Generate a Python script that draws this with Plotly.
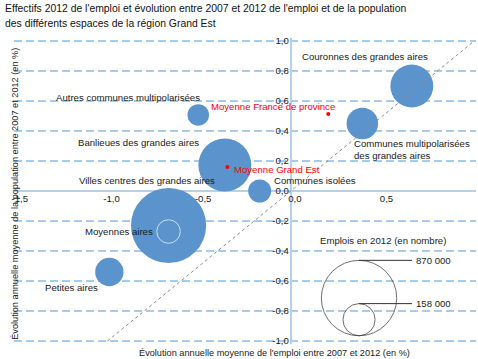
import plotly.graph_objects as go
import math

# ---- data ----
espaces = ["Couronnes des grandes aires",
           "Communes multipolarisées des grandes aires",
           "Autres communes multipolarisées",
           "Banlieues des grandes aires",
           "Communes isolées",
           "Villes centres des grandes aires",
           "Moyennes aires",
           "Petites aires"]
evol_emploi = [0.66, 0.39, -0.505, -0.36, -0.17, -0.667, -0.667, -0.99]
evol_pop = [0.70, 0.45, 0.507, 0.173, 0.0, -0.23, -0.27, -0.54]
emplois_2012 = [281000, 152000, 71000, 428000, 81000, 865000, 85000, 123000]

moyennes = ["Moyenne France de province", "Moyenne Grand Est"]
moy_emploi = [0.204, -0.346]
moy_pop = [0.513, 0.16]

legende_valeurs = [870000, 158000]
legende_labels = ["870 000", "158 000"]

x_ticks = [-1.5, -1.0, -0.5, 0.0, 0.5, 1.0]
y_ticks = [-1.0, -0.8, -0.6, -0.4, -0.2, 0.0, 0.2, 0.4, 0.6, 0.8, 1.0]
diagonale = [-1.0, 1.0]

titre = ["Effectifs 2012 de l'emploi et évolution entre 2007 et 2012 de l'emploi et de la population",
         "des différents espaces de la région Grand Est"]

def fr(v):
    return f"{v:.1f}".replace(".", ",")

# ---- layout geometry ----
W, H = 478, 359
# target: x -1.5..1.0 -> px 16..474 ; y 1..-1 -> px 41..341
XPAD, YPAD = 0.01, 0.02
PXU_X = 458 / 2.5
PXU_Y = 300 / 2.0
ML = round(16 - XPAD * PXU_X, 3)
MR = round(4 - XPAD * PXU_X, 3)
MT = round(41 - YPAD * PXU_Y, 3)
MB = round(18 - YPAD * PXU_Y, 3)
PW, PH = W - ML - MR, H - MT - MB
XR = [-1.5 - XPAD, 1.0 + XPAD]
YR = [-1.0 - YPAD, 1.0 + YPAD]
px_y = PH / (YR[1] - YR[0])
RMAX = 37.7  # radius (px) for the legend max value
VREF = legende_valeurs[0]

def diam(v):
    return 2 * RMAX * math.sqrt(v / VREF)

def pxx(p):  # pixel x -> paper
    return (p - ML) / PW

def pxy(p):  # pixel y -> paper
    return (H - MB - p) / PH

FONT = "Liberation Sans, Arial, Helvetica, sans-serif"
BLUE = "#5b94cc"
GRID = "#a9cbea"
AXIS = "#b3d1ee"
FS = 9.6
TXT = "#1a1a1a"

fig = go.Figure()

main_idx = [i for i in range(len(espaces)) if espaces[i] != "Moyennes aires"]
fig.add_trace(go.Scatter(
    x=[evol_emploi[i] for i in main_idx],
    y=[evol_pop[i] for i in main_idx],
    mode="markers",
    marker=dict(size=[diam(emplois_2012[i]) for i in main_idx], sizemode="diameter",
                color=BLUE, opacity=1, line=dict(width=0)),
    hovertext=[espaces[i] for i in main_idx], showlegend=False))
mi = espaces.index("Moyennes aires")
fig.add_trace(go.Scatter(
    x=[evol_emploi[mi]], y=[evol_pop[mi]], mode="markers",
    marker=dict(size=[diam(emplois_2012[mi])], sizemode="diameter",
                color=BLUE, line=dict(width=1, color="white")),
    showlegend=False))

fig.add_trace(go.Scatter(x=diagonale, y=diagonale, mode="lines",
                         line=dict(color="#8a8a8a", width=1, dash="dot"),
                         showlegend=False, hoverinfo="skip"))

fig.add_trace(go.Scatter(x=moy_emploi, y=moy_pop, mode="markers",
                         marker=dict(size=4, color="#ff0000"), showlegend=False))

# size legend
leg_cx = 0.372
leg_bottom = -0.965
leg_r_data = [diam(v) / 2 / px_y for v in legende_valeurs]
leg_cy = [leg_bottom + r for r in leg_r_data]
fig.add_trace(go.Scatter(
    x=[leg_cx] * len(legende_valeurs), y=leg_cy, mode="markers",
    marker=dict(size=[diam(v) for v in legende_valeurs], sizemode="diameter",
                color="rgba(0,0,0,0)", line=dict(width=1, color="#333333")),
    showlegend=False, hoverinfo="skip"))
leg_line_end = 0.661
for cy, r, lab in zip(leg_cy, leg_r_data, legende_labels):
    top = cy + r
    fig.add_shape(type="line", x0=leg_cx, x1=leg_line_end, y0=top, y1=top,
                  line=dict(color="#333333", width=1))
    fig.add_annotation(x=leg_line_end, y=top, text=lab, showarrow=False,
                       xanchor="left", xshift=2, font=dict(size=FS, color="#222"))
fig.add_annotation(x=0.503, y=-0.332, text="Emplois en 2012 (en nombre)", showarrow=False,
                   xanchor="center", font=dict(size=FS, color="#222"))

labels = [
    ("Couronnes des grandes aires", 0.405, 0.896, "center"),
    ("Communes multipolarisées<br>des grandes aires", 0.332, 0.275, "left"),
    ("Autres communes multipolarisées", -0.486, 0.621, "right"),
    ("Banlieues des grandes aires", -0.49, 0.322, "right"),
    ("Villes centres des grandes aires", -0.404, 0.068, "right"),
    ("Communes isolées", -0.104, 0.068, "left"),
    ("Moyennes aires", -0.741, -0.272, "right"),
    ("Petites aires", -1.041, -0.646, "right"),
]
for t, x, y, xa in labels:
    fig.add_annotation(x=x, y=y, text=t, showarrow=False, xanchor=xa, align="left",
                       font=dict(size=FS, color=TXT))
fig.add_annotation(x=-0.097, y=0.562, text=moyennes[0], showarrow=False, xanchor="center",
                   font=dict(size=FS, color="#ff0000"))
fig.add_annotation(x=-0.323, y=0.142, text=moyennes[1], showarrow=False, xanchor="left",
                   font=dict(size=FS, color="#ff0000"))

# axis titles
fig.add_annotation(xref="paper", yref="paper", x=pxx(274.5), y=pxy(353), yanchor="middle",
                   text="Évolution annuelle moyenne de l'emploi entre 2007 et 2012 (en %)",
                   showarrow=False, font=dict(size=9.2, color=TXT))
fig.add_annotation(xref="paper", yref="paper", x=pxx(8), y=pxy(194), textangle=-90,
                   text="Évolution annuelle moyenne de la population entre 2007 et 2012 (en %)",
                   showarrow=False, font=dict(size=9.2, color=TXT))

# title lines
for line, ypix in zip(titre, [9, 24]):
    fig.add_annotation(xref="paper", yref="paper", x=pxx(3), y=pxy(ypix), xanchor="left",
                       yanchor="middle", text=line, showarrow=False,
                       font=dict(size=10.4, color="#111"))

fig.update_layout(
    width=W, height=H,
    margin=dict(l=ML, r=MR, t=MT, b=MB),
    paper_bgcolor="white", plot_bgcolor="white",
    font=dict(family=FONT, size=FS, color=TXT),
    xaxis=dict(range=XR, tickvals=x_ticks, ticktext=[fr(v) for v in x_ticks],
               showgrid=False, zeroline=True, zerolinecolor=AXIS, zerolinewidth=1.5,
               anchor="free", position=(0 - YR[0]) / (YR[1] - YR[0]),
               showline=False, ticks="", tickfont=dict(size=FS), ticklabelshift=4,
               fixedrange=True),
    yaxis=dict(range=YR, tickvals=y_ticks, ticktext=[fr(v) for v in y_ticks],
               showgrid=True, gridcolor=GRID, gridwidth=1.5, griddash="8px,4px",
               zeroline=True, zerolinecolor=AXIS, zerolinewidth=1.5,
               anchor="free", position=(0 - XR[0]) / (XR[1] - XR[0]),
               showline=False, ticks="", tickfont=dict(size=FS), ticklabelstandoff=2,
               fixedrange=True),
)

fig.write_html("out.html", config={"displayModeBar": False},
               post_script="document.body.style.margin='0';document.body.style.padding='0';")
